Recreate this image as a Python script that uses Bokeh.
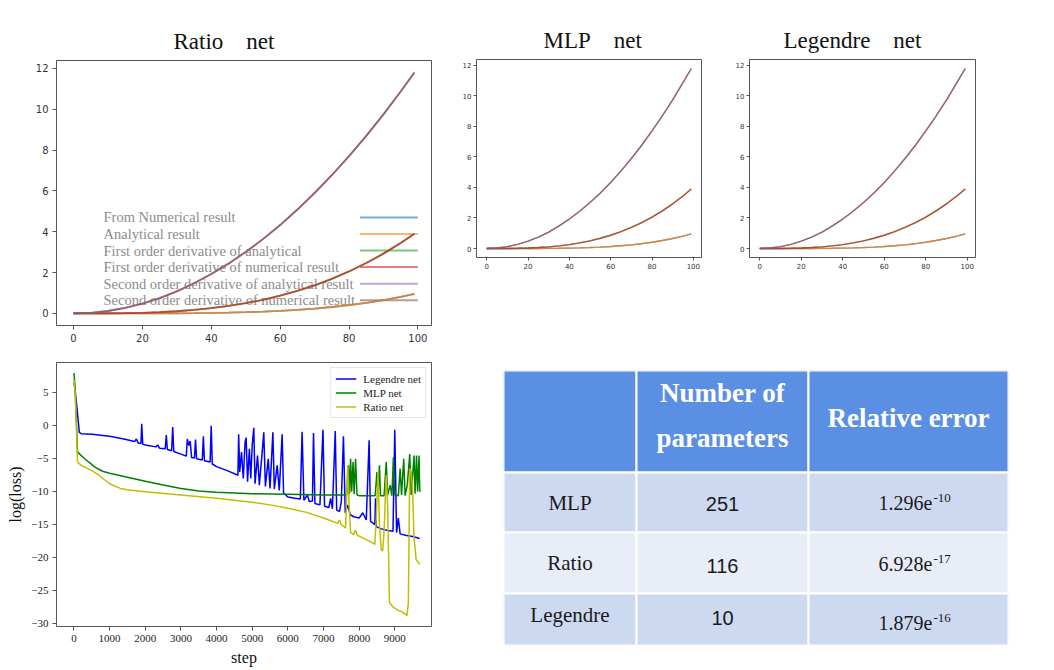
from bokeh.plotting import figure
from bokeh.layouts import row, column
from bokeh.models import Range1d, FixedTicker, Legend, LegendItem
from bokeh.core.properties import value
from bokeh.embed import file_html
from bokeh.resources import INLINE

SERIF = "Liberation Serif"
SANS = "DejaVu Sans"
GAP = "\u00a0\u00a0\u00a0\u00a0"

# ---------------- data: top panels (function, 1st and 2nd derivative) ----------------
x_grid = [0, 5, 10, 15, 20, 25, 30, 35, 40, 45, 50, 55, 60, 65, 70, 75, 80, 85, 90, 95, 99]
f_vals = [0, 0, 0.0001, 0.0005, 0.0016, 0.0039, 0.0081, 0.015, 0.026, 0.041, 0.062,
          0.091, 0.130, 0.178, 0.240, 0.316, 0.409, 0.522, 0.656, 0.814, 0.96]
df_vals = [0, 0.0005, 0.004, 0.014, 0.032, 0.063, 0.108, 0.172, 0.257, 0.366, 0.502,
           0.669, 0.868, 1.104, 1.379, 1.696, 2.058, 2.469, 2.930, 3.446, 3.90]
d2f_vals = [0, 0.03, 0.12, 0.27, 0.48, 0.75, 1.08, 1.48, 1.93, 2.44, 3.01,
            3.64, 4.33, 5.09, 5.90, 6.77, 7.71, 8.70, 9.75, 10.87, 11.80]

series_labels = ["From Numerical result", "Analytical result",
                 "First order derivative of analytical",
                 "First order derivative of numerical result",
                 "Second order derivative of analytical result",
                 "Second order derivative of numerical result"]
series_colors = ["#1f77b4", "#ff7f0e", "#2ca02c", "#d62728", "#9467bd", "#8c564b"]
series_values = [f_vals, f_vals, df_vals, df_vals, d2f_vals, d2f_vals]

x_ticks_top = [0, 20, 40, 60, 80, 100]
y_ticks_top = [0, 2, 4, 6, 8, 10, 12]

# ---------------- data: loss curves ----------------
legendre_step = [0, 30, 80, 150, 200, 500, 1000, 1400, 1700, 1750, 1800, 1880, 1900, 1930,
                 2000, 2300, 2350, 2400, 2560, 2590, 2620, 2740, 2770, 2800, 3000, 3150,
                 3180, 3220, 3260, 3300, 3380, 3410, 3440, 3600, 3630, 3660, 3820, 3850,
                 3880, 4000, 4300, 4600, 4620, 4650, 4700, 4750, 4800, 4830, 4870, 4920,
                 4960, 5000, 5045, 5080, 5150, 5200, 5280, 5325, 5370, 5450, 5500, 5580,
                 5620, 5700, 5760, 5840, 5880, 6000, 6200, 6350, 6400, 6450, 6550, 6600,
                 6690, 6720, 6760, 6900, 6985, 7030, 7150, 7200, 7250, 7330, 7370, 7450,
                 7500, 7560, 7610, 7680, 7750, 7850, 8000, 8100, 8200, 8280, 8320, 8400,
                 8440, 8460, 8480, 8600, 8800, 8950, 9000, 9050, 9100, 9150, 9300, 9500, 9700]
legendre_loss = [6.5, 5.5, 3.0, -1.0, -1.2, -1.3, -1.6, -2.0, -2.4, -2.0, -2.6, -2.7, 0.3, -2.8,
                 -2.9, -3.2, -2.9, -3.4, -3.5, -1.4, -3.6, -3.8, -0.2, -3.9, -4.3, -4.6,
                 -2.0, -3.0, -2.3, -4.8, -4.9, -2.1, -5.0, -5.2, -1.6, -5.3, -5.5, 0.0,
                 -5.8, -6.2, -6.8, -7.5, -1.3, -7.0, -4.0, -8.0, -2.5, -1.8, -8.5, -3.5,
                 -8.0, -3.0, -0.3, -8.8, -4.5, -9.0, -4.0, -1.0, -9.2, -5.0, -9.5, -1.0,
                 -9.6, -6.0, -9.8, -1.3, -10.2, -10.8, -11.0, -11.1, -0.9, -11.3, -10.5, -11.5,
                 -11.4, -1.1, -11.8, -12.0, -0.6, -12.2, -12.4, -11.0, -12.6, -0.8, -12.8, -13.0,
                 -11.5, -1.6, -13.2, -12.0, -13.5, -13.8, -14.0, -13.2, -14.3, -2.2, -14.5, -14.8,
                 -15.0, -11.0, -15.3, -15.6, -15.9, -16.0, -0.6, -16.2, -14.0, -16.4, -16.6, -16.8, -17.1]

mlp_step = [0, 30, 100, 300, 600, 800, 1000, 1500, 2000, 2500, 3000, 3500, 4000, 5000,
            6000, 7000, 7650, 7700, 7730, 7760, 7790, 7830, 7860, 7900, 7940, 8000, 8450,
            8500, 8530, 8570, 8600, 8700, 8760, 8800, 8870, 8920, 8960, 9000, 9100, 9150,
            9190, 9250, 9290, 9350, 9420, 9460, 9540, 9570, 9610, 9640, 9680, 9700, 9720]
mlp_loss = [8.0, 6.0, -4.0, -5.0, -6.3, -6.9, -7.2, -7.8, -8.4, -9.0, -9.5, -9.9, -10.1, -10.3,
            -10.4, -10.5, -10.5, -6.0, -10.3, -5.0, -10.0, -5.5, -10.4, -5.0, -10.5, -10.6, -10.6,
            -7.0, -10.5, -6.0, -10.6, -10.6, -5.5, -10.5, -9.0, -10.6, -4.8, -10.5, -10.6, -6.5,
            -10.5, -5.0, -10.6, -9.0, -4.3, -10.5, -4.5, -10.3, -4.5, -10.0, -4.5, -9.8, -10.0]

ratio_step = [0, 40, 100, 200, 500, 700, 1000, 1300, 1500, 2000, 3000, 4000, 5000, 5500,
              6000, 6500, 7000, 7400, 7450, 7500, 7620, 7680, 7720, 7760, 7850, 7900, 7950,
              8100, 8400, 8440, 8480, 8530, 8570, 8620, 8660, 8700, 8760, 8800, 8850, 8950,
              9100, 9200, 9300, 9340, 9380, 9420, 9460, 9500, 9540, 9600, 9700]
ratio_loss = [7.0, 4.5, -5.5, -6.0, -6.8, -7.5, -8.8, -9.5, -9.7, -10.0, -10.5, -11.0, -11.6, -12.0,
              -12.5, -13.1, -14.0, -14.8, -14.3, -15.0, -15.5, -6.0, -12.0, -16.2, -16.5, -15.8, -16.6,
              -17.0, -17.8, -18.0, -14.0, -7.0, -15.0, -18.8, -19.0, -16.0, -7.5, -12.0, -26.8, -27.5,
              -28.0, -28.2, -28.6, -28.8, -27.0, -6.5, -7.0, -10.0, -17.0, -20.3, -21.0]

loss_names = ["Legendre net", "MLP net", "Ratio net"]
loss_colors = ["#0000ff", "#008000", "#bfbf00"]
x_ticks_loss = [0, 1000, 2000, 3000, 4000, 5000, 6000, 7000, 8000, 9000]
y_ticks_loss = [-30, -25, -20, -15, -10, -5, 0, 5]

# ---------------- data: table ----------------
table_header = ["", "Number of", "parameters", "Relative error"]
table_models = ["MLP", "Ratio", "Legendre"]
table_params = ["251", "116", "10"]
table_err_mant = ["1.296e", "6.928e", "1.879e"]
table_err_exp = ["-10", "-17", "-16"]


# ================= helpers =================
def style_axes(p, font, size, color="#333333", standoff=3, tick_color="#555555"):
    for ax in (p.xaxis, p.yaxis):
        ax.axis_line_color = None
        ax.major_tick_line_color = tick_color
        ax.major_tick_out = 4
        ax.major_tick_in = 0
        ax.minor_tick_line_color = None
        ax.major_label_text_font = font
        ax.major_label_text_font_size = size
        ax.major_label_text_color = color
        ax.major_label_standoff = standoff


def curve_fig(title, width, height, bl, br, bt, bb, tick_size, title_offset,
              title_size, standoff):
    p = figure(width=width, height=height, output_backend="svg", toolbar_location=None,
               x_range=Range1d(-4.95, 103.95), y_range=Range1d(-0.59, 12.39),
               min_border_left=bl, min_border_right=br, min_border_top=bt,
               min_border_bottom=bb)
    p.title.text = title
    p.title.text_font = SERIF
    p.title.text_font_size = title_size
    p.title.text_font_style = "normal"
    p.title.text_color = "#111111"
    p.title.align = "left"
    p.title.offset = title_offset
    p.title.standoff = 13
    p.grid.visible = False
    p.outline_line_color = "#555555"
    p.outline_line_width = 1
    style_axes(p, SANS, tick_size, standoff=standoff)
    p.xaxis.ticker = FixedTicker(ticks=x_ticks_top)
    p.yaxis.ticker = FixedTicker(ticks=y_ticks_top)
    return p


def add_curves(p, lw):
    for ys, c in zip(series_values, series_colors):
        p.line(x_grid, ys, line_color=c, line_width=lw, line_alpha=0.75)


# ================= top-left: Ratio net =================
p1 = curve_fig("Ratio" + GAP + "net", 445, 345, 56, 14, 60, 20, "10px", 117, "23px", 4)
leg_text_x = 8.7
leg_line_x0, leg_line_x1 = 83.2, 100
leg_top, leg_step = 4.70, 0.81
leg_rows = [leg_top - i * leg_step for i in range(len(series_labels))]
p1.text(x=[leg_text_x] * len(series_labels), y=leg_rows, text=series_labels,
        text_font=value(SERIF), text_font_size="14.5px", text_color="#8c8c8c",
        text_baseline="middle", text_align="left")
p1.segment(x0=[leg_line_x0] * 6, x1=[leg_line_x1] * 6, y0=leg_rows, y1=leg_rows,
           line_color=series_colors, line_width=2, line_alpha=0.6)
add_curves(p1, 1.8)

# ================= top-middle: MLP net =================
p2 = curve_fig("MLP" + GAP + "net", 275, 345, 31, 19, 59, 88, "7px", 67, "23px", 2)
p2.xaxis.major_tick_out = 3
p2.yaxis.major_tick_out = 3
add_curves(p2, 1.4)

# ================= top-right: Legendre net =================
p3 = curve_fig("Legendre" + GAP + "net", 334, 345, 29, 79, 59, 87, "7px", 34, "23px", 2)
p3.xaxis.major_tick_out = 3
p3.yaxis.major_tick_out = 3
add_curves(p3, 1.4)

# ================= bottom-left: loss =================
p4 = figure(width=445, height=325, output_backend="svg", toolbar_location=None,
            x_range=Range1d(-490, 10030), y_range=Range1d(-30.45, 9.6),
            min_border_left=56, min_border_right=14, min_border_top=17,
            min_border_bottom=44)
p4.grid.visible = False
p4.outline_line_color = "#555555"
style_axes(p4, SERIF, "11px", color="#222222", standoff=4)
p4.xaxis.ticker = FixedTicker(ticks=x_ticks_loss)
p4.yaxis.ticker = FixedTicker(ticks=y_ticks_loss)
p4.yaxis.major_label_overrides = {v: (("\u2212" + str(-v)) if v < 0 else str(v)) for v in y_ticks_loss}
p4.xaxis.axis_label = "step"
p4.yaxis.axis_label = "log(loss)"
for ax in (p4.xaxis, p4.yaxis):
    ax.axis_label_text_font = SERIF
    ax.axis_label_text_font_size = "16px"
    ax.axis_label_text_font_style = "normal"
    ax.axis_label_text_color = "#111111"
    ax.axis_label_standoff = 4
items = []
for name, st, ls, c in zip(loss_names, [legendre_step, mlp_step, ratio_step],
                           [legendre_loss, mlp_loss, ratio_loss], loss_colors):
    r = p4.line(st, ls, line_color=c, line_width=1.5)
    items.append(LegendItem(label=name, renderers=[r]))
leg = Legend(items=items, location="top_right", margin=5, padding=4, spacing=1,
             glyph_width=21, glyph_height=13, label_height=13, label_standoff=7,
             label_text_font=SERIF, label_text_font_size="11px",
             label_text_color="#222222", border_line_color="#cccccc",
             background_fill_alpha=0.9)
p4.add_layout(leg)

# ================= bottom-right: table =================
col_w = [133, 172, 200]
row_h = [102, 60, 61, 52]
tw, th = sum(col_w), sum(row_h)
t = figure(width=609, height=325, output_backend="svg", toolbar_location=None,
           x_range=Range1d(0, tw), y_range=Range1d(th, 0),
           x_axis_type=None, y_axis_type=None,
           min_border_left=58, min_border_right=46, min_border_top=25, min_border_bottom=25)
t.grid.visible = False
t.outline_line_color = None
col_l = [sum(col_w[:i]) for i in range(3)]
col_c = [col_l[i] + col_w[i] / 2 for i in range(3)]
row_t = [sum(row_h[:i]) for i in range(4)]
row_c = [row_t[i] + row_h[i] / 2 for i in range(4)]
row_fill = ["#5b8fe3", "#cdd9f1", "#e8edf8", "#cdd9f1"]
L, R, T, B, F = [], [], [], [], []
for ri in range(4):
    for ci in range(3):
        L.append(col_l[ci]); R.append(col_l[ci] + col_w[ci])
        T.append(row_t[ri]); B.append(row_t[ri] + row_h[ri])
        F.append(row_fill[ri])
t.quad(left=L, right=R, top=T, bottom=B, fill_color=F, line_color="white", line_width=2)
t.text(x=[col_c[1], col_c[1], col_c[2]], y=[row_c[0] - 29, row_c[0] + 16, row_c[0] - 4],
       text=table_header[1:], text_font=value(SERIF), text_font_size="27px",
       text_font_style="bold", text_color="white", text_align="center", text_baseline="middle")
t.text(x=[col_c[0]] * 3, y=[row_c[1], row_c[2], row_c[3] - 5], text=table_models,
       text_font=value(SERIF), text_font_size="21px", text_color="#1a1a1a",
       text_align="center", text_baseline="middle")
t.text(x=[col_c[1]] * 3, y=[row_c[1] + 1, row_c[2] + 3, row_c[3] - 2], text=table_params,
       text_font=value("Liberation Sans"), text_font_size="20px", text_color="#1a1a1a",
       text_align="center", text_baseline="middle")
err_y = [row_c[1], row_c[2] + 1, row_c[3] + 3]
split_x = col_c[2] + 24
t.text(x=[split_x] * 3, y=err_y, text=table_err_mant,
       text_font=value(SERIF), text_font_size="20px", text_color="#1a1a1a",
       text_align="right", text_baseline="middle")
t.text(x=[split_x + 1] * 3, y=[v - 5 for v in err_y], text=table_err_exp,
       text_font=value(SERIF), text_font_size="13px", text_color="#1a1a1a",
       text_align="left", text_baseline="middle")

layout = row(column(p1, p4), column(row(p2, p3), t))
open("out.html", "w").write(file_html(layout, INLINE))
